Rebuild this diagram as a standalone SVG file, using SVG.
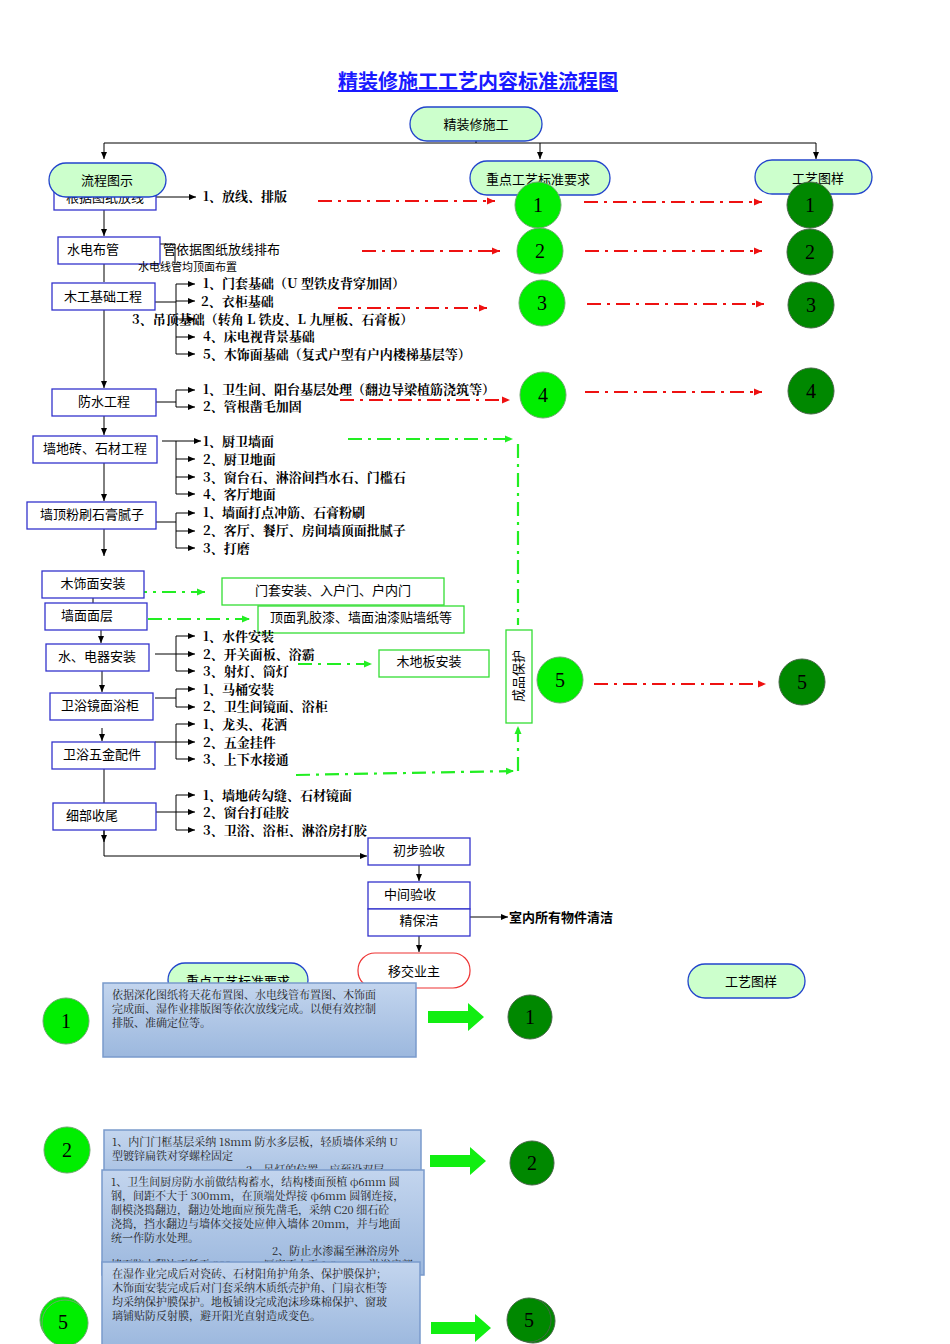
<svg xmlns="http://www.w3.org/2000/svg" width="950" height="1344" viewBox="0 0 950 1344">
<style>
text{font-family:"Noto Sans CJK SC","Liberation Sans",sans-serif;fill:#000}
.t{font-size:13px}
.i{font-size:13px;font-family:"Noto Serif CJK SC","Noto Sans CJK SC","Liberation Serif",serif;font-weight:bold}
.b{fill:#fff;stroke:#3333cc;stroke-width:1.3}
.p{fill:#ccffcc;stroke:#2244cc;stroke-width:1.3}
.g{fill:#fff;stroke:#33dd33;stroke-width:1.3}
.l{stroke:#000;stroke-width:1;fill:none}
.rd{stroke:#ee1111;stroke-width:2.2;stroke-dasharray:14 6 3 6;fill:none}
.gd{stroke:#22ee22;stroke-width:2.2;stroke-dasharray:14 6 3 6;fill:none}
.c1{fill:#00ee00;stroke:#6aa86a;stroke-width:1}
.c2{fill:#008800;stroke:#446644;stroke-width:1}
.n{font-family:"Liberation Serif",serif;font-size:20px}
.bx{fill:url(#bg);stroke:#7a9acc;stroke-width:1.5}
.s{font-family:"Noto Serif CJK SC","Liberation Serif",serif;font-size:11px;fill:#222}
</style>
<defs>
<marker id="a" markerWidth="8" markerHeight="8" refX="7" refY="4" orient="auto" markerUnits="userSpaceOnUse"><path d="M0,1 L7,4 L0,7z" fill="#000"/></marker>
<marker id="r" markerWidth="9" markerHeight="9" refX="8" refY="4.5" orient="auto" markerUnits="userSpaceOnUse"><path d="M0,1 L8,4.5 L0,8z" fill="#ee1111"/></marker>
<marker id="gm" markerWidth="9" markerHeight="9" refX="8" refY="4.5" orient="auto" markerUnits="userSpaceOnUse"><path d="M0,1 L8,4.5 L0,8z" fill="#22ee22"/></marker>
<linearGradient id="bg" x1="0" y1="0" x2="0" y2="1"><stop offset="0" stop-color="#c3d5ee"/><stop offset="1" stop-color="#9cb8de"/></linearGradient>
</defs>

<text x="478" y="89" text-anchor="middle" style="font-size:20px;font-weight:bold;fill:#1a1aff;text-decoration:underline">精装修施工工艺内容标准流程图</text>

<g id="connectors">
<path class="l" d="M476,141 V143 M104,143 H816" />
<path class="l" d="M104,143 V159" marker-end="url(#a)"/>
<path class="l" d="M540,143 V159" marker-end="url(#a)"/>
<path class="l" d="M816,143 V159" marker-end="url(#a)"/>
<path class="l" d="M156,197 H196" marker-end="url(#a)"/>
<path class="l" d="M104,210 V236" marker-end="url(#a)"/>
<path class="l" d="M160,244 H175 V262" />
<path class="l" d="M104,264 V282"/>
<path class="l" d="M104,310 V388" marker-end="url(#a)"/>
<path class="l" d="M104,416 V435" marker-end="url(#a)"/>
<path class="l" d="M104,463 V501" marker-end="url(#a)"/>
<path class="l" d="M104,529 V556" marker-end="url(#a)"/>
<path class="l" d="M93,598 V603" />
<path class="l" d="M101,630 V643" marker-end="url(#a)"/>
<path class="l" d="M102,671 V692" marker-end="url(#a)"/>
<path class="l" d="M102,728 V741" marker-end="url(#a)"/>
<path class="l" d="M104,769 V856 H367" marker-end="url(#a)"/>
<path class="l" d="M104,830 V842" marker-end="url(#a)"/>
<path class="l" d="M419,865 V881" marker-end="url(#a)"/>
<path class="l" d="M470,917 H508" marker-end="url(#a)"/>
<path class="l" d="M419,936 V952" marker-end="url(#a)"/>
<path class="l" d="M155,302 H176 M176,284 V354"/>
<path class="l" d="M176,284 H195" marker-end="url(#a)"/><path class="l" d="M176,301 H195" marker-end="url(#a)"/><path class="l" d="M176,319 H195" marker-end="url(#a)"/><path class="l" d="M176,337 H195" marker-end="url(#a)"/><path class="l" d="M176,354 H195" marker-end="url(#a)"/>
<path class="l" d="M156,402 H176 M176,390 V407"/>
<path class="l" d="M176,390 H195" marker-end="url(#a)"/><path class="l" d="M176,407 H195" marker-end="url(#a)"/>
<path class="l" d="M162,441 H201" marker-end="url(#a)"/>
<path class="l" d="M176,441 V494"/>
<path class="l" d="M176,459 H195" marker-end="url(#a)"/><path class="l" d="M176,477 H195" marker-end="url(#a)"/><path class="l" d="M176,494 H195" marker-end="url(#a)"/>
<path class="l" d="M156,522 H176 M176,513 V548"/>
<path class="l" d="M176,513 H195" marker-end="url(#a)"/><path class="l" d="M176,531 H195" marker-end="url(#a)"/><path class="l" d="M176,548 H195" marker-end="url(#a)"/>
<path class="l" d="M155,654 H176 M176,636 V671"/>
<path class="l" d="M176,636 H195" marker-end="url(#a)"/><path class="l" d="M176,654 H195" marker-end="url(#a)"/><path class="l" d="M176,671 H195" marker-end="url(#a)"/>
<path class="l" d="M155,698 H176 M176,689 V707"/>
<path class="l" d="M176,689 H195" marker-end="url(#a)"/><path class="l" d="M176,707 H195" marker-end="url(#a)"/>
<path class="l" d="M155,742 H176 M176,724 V759"/>
<path class="l" d="M176,724 H195" marker-end="url(#a)"/><path class="l" d="M176,742 H195" marker-end="url(#a)"/><path class="l" d="M176,759 H195" marker-end="url(#a)"/>
<path class="l" d="M156,812 H176 M176,795 V830"/>
<path class="l" d="M176,795 H195" marker-end="url(#a)"/><path class="l" d="M176,812 H195" marker-end="url(#a)"/><path class="l" d="M176,830 H195" marker-end="url(#a)"/>
<path class="rd" d="M318,201 H495" marker-end="url(#r)"/>
<path class="rd" d="M584,202 H762" marker-end="url(#r)"/>
<path class="rd" d="M362,251 H500" marker-end="url(#r)"/>
<path class="rd" d="M585,251 H762" marker-end="url(#r)"/>
<path class="rd" d="M338,308 H487" marker-end="url(#r)"/>
<path class="rd" d="M587,304 H764" marker-end="url(#r)"/>
<path class="rd" d="M340,400 H510" marker-end="url(#r)"/>
<path class="rd" d="M585,392 H762" marker-end="url(#r)"/>
<path class="rd" d="M594,684 H766" marker-end="url(#r)"/>
<path class="gd" d="M348,439 H513" marker-end="url(#gm)"/>
<path class="gd" d="M518,444 V625"/>
<path class="gd" d="M104,592 H205" marker-end="url(#gm)"/>
<path class="gd" d="M148,619 H250" marker-end="url(#gm)"/>
<path class="gd" d="M298,664 H372" marker-end="url(#gm)"/>
<path class="gd" d="M296,775 L514,771" marker-end="url(#gm)"/>
<path class="gd" d="M518,771 V726" marker-end="url(#gm)"/>
</g>

<g id="n-top"><rect x="410" y="107" width="132" height="34" rx="17" class="p"/><text x="476" y="129" text-anchor="middle" class="t">精装修施工</text></g>
<g id="n-fangxian"><rect x="54" y="184" width="102" height="26" class="b"/><text x="105" y="202" text-anchor="middle" class="t">根据图纸放线</text></g>
<g id="n-lc"><rect x="49" y="163" width="117" height="34" rx="17" class="p"/><text x="107" y="185" text-anchor="middle" class="t">流程图示</text></g>
<g id="n-zd"><rect x="470" y="161" width="140" height="34" rx="17" class="p"/><text x="538" y="184" text-anchor="middle" class="t">重点工艺标准要求</text></g>
<g id="n-gy"><rect x="755" y="160" width="117" height="34" rx="17" class="p"/><text x="818" y="183" text-anchor="middle" class="t">工艺图样</text></g>
<text x="203" y="201" class="i">1、放线、排版</text>

<g id="n-sd"><rect x="58" y="237" width="102" height="27" class="b"/><text x="93" y="254" text-anchor="middle" class="t">水电布管</text></g>
<text x="163" y="254" class="t">管依据图纸放线排布</text>
<text x="138" y="271" style="font-size:11px">水电线管均顶面布置</text>

<g id="n-mg"><rect x="52" y="283" width="103" height="27" class="b"/><text x="103" y="301" text-anchor="middle" class="t">木工基础工程</text></g>
<text x="203" y="288" class="i">1、门套基础（U 型铁皮背穿加固）</text>
<text x="201" y="306" class="i">2、衣柜基础</text>
<text x="132" y="324" class="i">3、吊顶基础（转角 L 铁皮、L 九厘板、石膏板）</text>
<text x="203" y="341" class="i">4、床电视背景基础</text>
<text x="203" y="359" class="i">5、木饰面基础（复式户型有户内楼梯基层等）</text>

<g id="n-fs"><rect x="52" y="389" width="104" height="27" class="b"/><text x="104" y="406" text-anchor="middle" class="t">防水工程</text></g>
<text x="203" y="394" class="i">1、卫生间、阳台基层处理（翻边导梁植筋浇筑等）</text>
<text x="203" y="411" class="i">2、管根凿毛加固</text>

<g id="n-qdz"><rect x="33" y="436" width="124" height="27" class="b"/><text x="95" y="453" text-anchor="middle" class="t">墙地砖、石材工程</text></g>
<text x="203" y="446" class="i">1、厨卫墙面</text>
<text x="203" y="464" class="i">2、厨卫地面</text>
<text x="203" y="482" class="i">3、窗台石、淋浴间挡水石、门槛石</text>
<text x="203" y="499" class="i">4、客厅地面</text>

<g id="n-qd"><rect x="27" y="502" width="129" height="27" class="b"/><text x="92" y="519" text-anchor="middle" class="t">墙顶粉刷石膏腻子</text></g>
<text x="203" y="517" class="i">1、墙面打点冲筋、石膏粉刷</text>
<text x="203" y="535" class="i">2、客厅、餐厅、房间墙顶面批腻子</text>
<text x="203" y="553" class="i">3、打磨</text>

<g id="n-msm"><rect x="42" y="571" width="102" height="27" class="b"/><text x="93" y="588" text-anchor="middle" class="t">木饰面安装</text></g>
<g id="n-mt"><rect x="222" y="578" width="222" height="27" class="g"/><text x="333" y="595" text-anchor="middle" class="t">门套安装、入户门、户内门</text></g>
<g id="n-qm"><rect x="45" y="603" width="102" height="27" class="b"/><text x="87" y="620" text-anchor="middle" class="t">墙面面层</text></g>
<g id="n-dm"><rect x="258" y="606" width="206" height="27" class="g"/><text x="361" y="622" text-anchor="middle" class="t">顶面乳胶漆、墙面油漆贴墙纸等</text></g>
<g id="n-sdq"><rect x="46" y="644" width="103" height="27" class="b"/><text x="97" y="661" text-anchor="middle" class="t">水、电器安装</text></g>
<text x="203" y="641" class="i">1、水件安装</text>
<text x="203" y="659" class="i">2、开关面板、浴霸</text>
<text x="203" y="676" class="i">3、射灯、筒灯</text>
<g id="n-mdb"><rect x="379" y="650" width="110" height="27" class="g"/><text x="429" y="666" text-anchor="middle" class="t">木地板安装</text></g>
<g id="n-wy"><rect x="50" y="693" width="103" height="27" class="b"/><text x="100" y="710" text-anchor="middle" class="t">卫浴镜面浴柜</text></g>
<text x="203" y="694" class="i">1、马桶安装</text>
<text x="203" y="711" class="i">2、卫生间镜面、浴柜</text>
<g id="n-wj"><rect x="52" y="742" width="103" height="27" class="b"/><text x="102" y="759" text-anchor="middle" class="t">卫浴五金配件</text></g>
<text x="203" y="729" class="i">1、龙头、花洒</text>
<text x="203" y="747" class="i">2、五金挂件</text>
<text x="203" y="764" class="i">3、上下水接通</text>
<g id="n-cp"><rect x="506" y="630" width="26" height="93" class="g"/><text x="519" y="676" text-anchor="middle" dominant-baseline="middle" transform="rotate(-90 519 676)" class="t">成品保护</text></g>
<g id="n-xb"><rect x="53" y="803" width="103" height="27" class="b"/><text x="92" y="820" text-anchor="middle" class="t">细部收尾</text></g>
<text x="203" y="800" class="i">1、墙地砖勾缝、石材镜面</text>
<text x="203" y="817" class="i">2、窗台打硅胶</text>
<text x="203" y="835" class="i">3、卫浴、浴柜、淋浴房打胶</text>

<g id="n-cb"><rect x="368" y="838" width="102" height="27" class="b"/><text x="419" y="855" text-anchor="middle" class="t">初步验收</text></g>
<g id="n-zj"><rect x="368" y="882" width="102" height="27" class="b"/><text x="410" y="899" text-anchor="middle" class="t">中间验收</text></g>
<g id="n-jb"><rect x="368" y="909" width="102" height="27" class="b"/><text x="419" y="925" text-anchor="middle" class="t">精保洁</text></g>
<text x="509" y="922" class="t" style="font-weight:bold">室内所有物件清洁</text>
<g id="n-yj"><rect x="358" y="953" width="112" height="35" rx="17" fill="#fff" stroke="#ee3333" stroke-width="1.2"/><text x="414" y="976" text-anchor="middle" class="t">移交业主</text></g>

<g id="circles">
<circle cx="538" cy="205" r="23" class="c1"/><text x="538" y="212" text-anchor="middle" class="n">1</text>
<circle cx="810" cy="205" r="23" class="c2"/><text x="810" y="212" text-anchor="middle" class="n">1</text>
<circle cx="540" cy="251" r="23" class="c1"/><text x="540" y="258" text-anchor="middle" class="n">2</text>
<circle cx="810" cy="252" r="23" class="c2"/><text x="810" y="259" text-anchor="middle" class="n">2</text>
<circle cx="542" cy="303" r="23" class="c1"/><text x="542" y="310" text-anchor="middle" class="n">3</text>
<circle cx="811" cy="305" r="23" class="c2"/><text x="811" y="312" text-anchor="middle" class="n">3</text>
<circle cx="543" cy="395" r="23" class="c1"/><text x="543" y="402" text-anchor="middle" class="n">4</text>
<circle cx="811" cy="391" r="23" class="c2"/><text x="811" y="398" text-anchor="middle" class="n">4</text>
<circle cx="560" cy="680" r="23" class="c1"/><text x="560" y="687" text-anchor="middle" class="n">5</text>
<circle cx="802" cy="682" r="23" class="c2"/><text x="802" y="689" text-anchor="middle" class="n">5</text>
</g>

<g id="bottom">
<g id="n-zd2"><rect x="168" y="963" width="140" height="34" rx="17" class="p"/><text x="238" y="986" text-anchor="middle" class="t">重点工艺标准要求</text></g>
<g id="n-gy2"><rect x="688" y="964" width="117" height="34" rx="17" class="p"/><text x="751" y="986" text-anchor="middle" class="t">工艺图样</text></g>
<circle cx="66" cy="1021" r="23" class="c1"/><text x="66" y="1028" text-anchor="middle" class="n">1</text>
<rect x="103" y="983" width="313" height="74" class="bx"/>
<text class="s"><tspan x="112" y="999">依据深化图纸将天花布置图、水电线管布置图、木饰面</tspan><tspan x="112" y="1013">完成面、湿作业排版图等依次放线完成。以便有效控制</tspan><tspan x="112" y="1027">排版、准确定位等。</tspan></text>
<path d="M428,1011 H468 V1003 L484,1017 L468,1031 V1023 H428z" fill="#11ee11"/>
<circle cx="530" cy="1017" r="22" class="c2"/><text x="530" y="1024" text-anchor="middle" class="n">1</text>

<circle cx="67" cy="1150" r="23" class="c1"/><text x="67" y="1157" text-anchor="middle" class="n">2</text>
<rect x="104" y="1130" width="317" height="70" class="bx"/>
<text class="s"><tspan x="112" y="1146">1、内门门框基层采纳 18mm 防水多层板，轻质墙体采纳 U</tspan><tspan x="112" y="1160">型镀锌扁铁对穿螺栓固定</tspan><tspan x="246" y="1174">2、吊灯的位置，应预设双层</tspan></text>
<path d="M430,1155 H470 V1147 L486,1161 L470,1175 V1167 H430z" fill="#11ee11"/>
<circle cx="532" cy="1163" r="22" class="c2"/><text x="532" y="1170" text-anchor="middle" class="n">2</text>

<rect x="102" y="1170" width="322" height="105" class="bx"/>
<text class="s"><tspan x="111" y="1186">1、卫生间厨房防水前做结构蓄水，结构楼面预植 φ6mm 圆</tspan><tspan x="111" y="1200">钢，间距不大于 300mm，在顶端处焊接 φ6mm 圆钢连接，</tspan><tspan x="111" y="1214">制模浇捣翻边，翻边处地面应预先凿毛，采纳 C20 细石砼</tspan><tspan x="111" y="1228">浇捣，挡水翻边与墙体交接处应伸入墙体 20mm，并与地面</tspan><tspan x="111" y="1242">统一作防水处理。</tspan><tspan x="272" y="1255">2、防止水渗漏至淋浴房外</tspan><tspan x="111" y="1269">墙面防水翻边不低于 300mm，厚度不小于 1.8mm，淋浴房部</tspan></text>

<circle cx="63" cy="1320" r="23" class="c1"/><circle cx="65" cy="1323" r="23" class="c1"/><text x="63" y="1329" text-anchor="middle" class="n">5</text>
<rect x="102" y="1262" width="318" height="84" class="bx"/>
<text class="s"><tspan x="112" y="1278">在湿作业完成后对瓷砖、石材阳角护角条、保护膜保护；</tspan><tspan x="112" y="1292">木饰面安装完成后对门套采纳木质纸壳护角、门扇衣柜等</tspan><tspan x="112" y="1306">均采纳保护膜保护。地板铺设完成泡沫珍珠棉保护、窗玻</tspan><tspan x="112" y="1320">璃铺贴防反射膜，避开阳光直射造成变色。</tspan></text>
<path d="M431,1322 H475 V1314 L491,1328 L475,1342 V1334 H431z" fill="#11ee11"/>
<circle cx="533" cy="1321" r="22" class="c2"/><circle cx="529" cy="1320" r="22" class="c2"/><text x="529" y="1327" text-anchor="middle" class="n">5</text>
</g>
</svg>
